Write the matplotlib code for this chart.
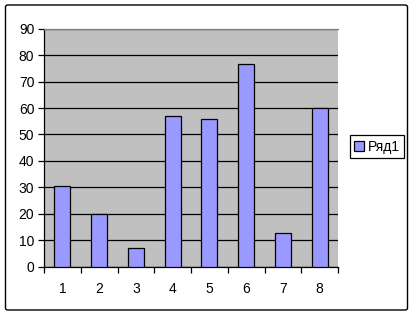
import matplotlib
matplotlib.use('Agg')
import matplotlib.pyplot as plt
from matplotlib.patches import FancyBboxPatch

plt.rcParams['font.family'] = ['Liberation Sans', 'DejaVu Sans']

CATEGORIES = ['1', '2', '3', '4', '5', '6', '7', '8']
VALUES = [30.5, 20, 7.2, 56.8, 56, 76.8, 12.8, 60]
SERIES_NAME = 'Ряд1'
Y_TICKS = [0, 10, 20, 30, 40, 50, 60, 70, 80, 90]

BAR_COLOR = '#9999FF'
PLOT_BG = '#C0C0C0'
FONT = 10


def main():
  fig = plt.figure(figsize=(4.15, 3.16), dpi=100)
  fig.patch.set_facecolor('white')
  # outer chart border
  border = FancyBboxPatch((5.5 / 415, 1 - 310 / 316), 402 / 415, 305 / 316,
                          boxstyle='round,pad=0,rounding_size=0.006',
                          transform=fig.transFigure, facecolor='none',
                          edgecolor='black', linewidth=1.0)
  fig.patches.append(border)

  ax = fig.add_axes([44 / 415, 49.3 / 316, 294 / 415, 238 / 316])
  ax.set_facecolor(PLOT_BG)
  x = list(range(len(CATEGORIES)))
  ax.bar(x, VALUES, width=0.43, color=BAR_COLOR, edgecolor='black',
         linewidth=0.9, label=SERIES_NAME, zorder=3)
  ax.set_xlim(-0.5, len(CATEGORIES) - 0.5)
  ax.set_ylim(0, 90)
  ax.set_yticks(Y_TICKS)
  ax.set_yticklabels([str(t) for t in Y_TICKS], fontsize=FONT)
  ax.yaxis.grid(True, color='black', linewidth=0.9, zorder=1)
  ax.set_axisbelow(True)

  # x ticks at category boundaries, labels at centres
  ax.set_xticks([i - 0.5 for i in range(len(CATEGORIES) + 1)])
  ax.set_xticklabels([])
  ax.set_xticks(x, minor=True)
  ax.set_xticklabels(CATEGORIES, minor=True, fontsize=FONT)
  ax.tick_params(axis='x', which='major', direction='out', length=4,
                 width=0.9, color='black')
  ax.tick_params(axis='x', which='minor', length=0, pad=11)
  ax.tick_params(axis='y', direction='out', length=4, width=0.9,
                 color='black', pad=3)

  ax.spines['left'].set_color('black')
  ax.spines['bottom'].set_color('black')
  ax.spines['top'].set_color('#808080')
  ax.spines['right'].set_visible(False)
  for s in ['left', 'bottom', 'top']:
    ax.spines[s].set_linewidth(0.9)

  leg = fig.legend(loc='center left',
                   bbox_to_anchor=(350 / 415, 1 - 146.5 / 316),
                   fontsize=FONT, frameon=True, fancybox=False,
                   edgecolor='black', framealpha=1, borderpad=0.3,
                   handlelength=0.7, handleheight=0.7, handletextpad=0.3,
                   borderaxespad=0)
  leg.get_frame().set_linewidth(0.9)

  fig.savefig('out.png', dpi=100)


if __name__ == '__main__':
  main()
